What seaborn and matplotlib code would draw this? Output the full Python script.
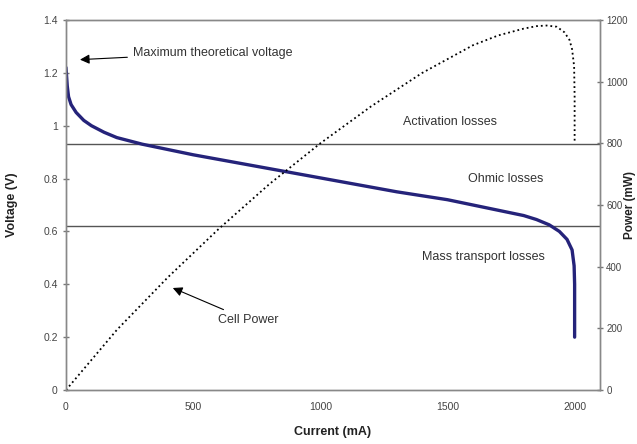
import matplotlib
matplotlib.use("Agg")
import matplotlib.pyplot as plt
import seaborn as sns
import pandas as pd

# Polarisation curve (voltage vs current)
current_v = [0, 5, 10, 20, 40, 70, 100, 150, 200, 300, 400, 500, 700, 900,
             1100, 1300, 1500, 1700, 1800, 1850, 1900, 1940, 1970, 1990, 1998, 2000, 2000]
voltage = [1.22, 1.15, 1.11, 1.08, 1.05, 1.02, 1.00, 0.975, 0.955, 0.93, 0.91, 0.89, 0.855, 0.82,
           0.785, 0.75, 0.72, 0.68, 0.66, 0.645, 0.625, 0.60, 0.57, 0.53, 0.47, 0.40, 0.20]

# Cell power curve
current_p = [0, 200, 400, 600, 800, 1000, 1200, 1400, 1600, 1700, 1800, 1850, 1890, 1930,
             1960, 1980, 1990, 1998, 2000, 2000]
power = [0, 195, 365, 522, 668, 800, 920, 1028, 1118, 1150, 1172, 1180, 1182, 1178,
         1160, 1135, 1105, 1050, 950, 800]

loss_levels = [0.93, 0.62]
xticks = [0, 500, 1000, 1500, 2000]
yticks = [0, 0.2, 0.4, 0.6, 0.8, 1, 1.2, 1.4]
y2ticks = [0, 200, 400, 600, 800, 1000, 1200]

sns.set_theme(style="white")
plt.rcParams['font.family'] = ['Liberation Sans', 'DejaVu Sans']

grey = '#444444'
fig = plt.figure(figsize=(6.37, 4.44), dpi=100)
ax = fig.add_axes([0.1036, 0.1216, 0.8384, 0.8334])
ax2 = ax.twinx()

df_v = pd.DataFrame({'Current (mA)': current_v, 'Voltage (V)': voltage})
df_p = pd.DataFrame({'Current (mA)': current_p, 'Power (mW)': power})

sns.lineplot(data=df_v, x='Current (mA)', y='Voltage (V)', ax=ax, color='#25237a',
             linewidth=2.4, sort=False, estimator=None)
sns.lineplot(data=df_p, x='Current (mA)', y='Power (mW)', ax=ax2, color='black',
             linewidth=1.3, linestyle=':', sort=False, estimator=None)

for lvl in loss_levels:
    ax.axhline(lvl, color='#555555', linewidth=1.0, zorder=1)

ax.set_xlim(0, 2100)
ax.set_ylim(0, 1.4)
ax2.set_ylim(0, 1200)
ax.set_xticks(xticks)
ax.set_yticks(yticks)
ax.set_yticklabels([f'{v:g}' for v in yticks])
ax2.set_yticks(y2ticks)

for a in (ax, ax2):
    for s in a.spines.values():
        s.set_color('#888888')
        s.set_linewidth(1.0)
    a.tick_params(direction='inout', length=5, width=1, color='#777777',
                  labelsize=7.5, labelcolor=grey)
ax.tick_params(axis='x', pad=6)
ax2.tick_params(axis='y', pad=2, labelsize=7)

ax.set_xlabel('Current (mA)', fontsize=9, fontweight='bold', color='#222222', labelpad=10)
ax.set_ylabel('Voltage (V)', fontsize=9, fontweight='bold', color='#222222', labelpad=18)
ax2.set_ylabel('Power (mW)', fontsize=8.5, fontweight='bold', color='#222222',
               va='center', ha='center')
ax2.yaxis.set_label_coords(1.056, 0.5)

txt = dict(fontsize=9, color='#333333')
ax.annotate('Maximum theoretical voltage', xy=(55, 1.25), xytext=(265, 1.275),
            va='center', ha='left', **txt,
            arrowprops=dict(arrowstyle='-|>', color='black', lw=0.8, mutation_scale=14,
                            shrinkB=0))
ax.annotate('Cell Power', xy=(420, 0.386), xytext=(596, 0.265),
            va='center', ha='left', **txt,
            arrowprops=dict(arrowstyle='-|>', color='black', lw=0.8, mutation_scale=14,
                            shrinkB=0))
ax.text(1510, 1.014, 'Activation losses', ha='center', va='center', **txt)
ax.text(1730, 0.798, 'Ohmic losses', ha='center', va='center', **txt)
ax.text(1643, 0.503, 'Mass transport losses', ha='center', va='center', **txt)

fig.savefig('out.png', dpi=100)
